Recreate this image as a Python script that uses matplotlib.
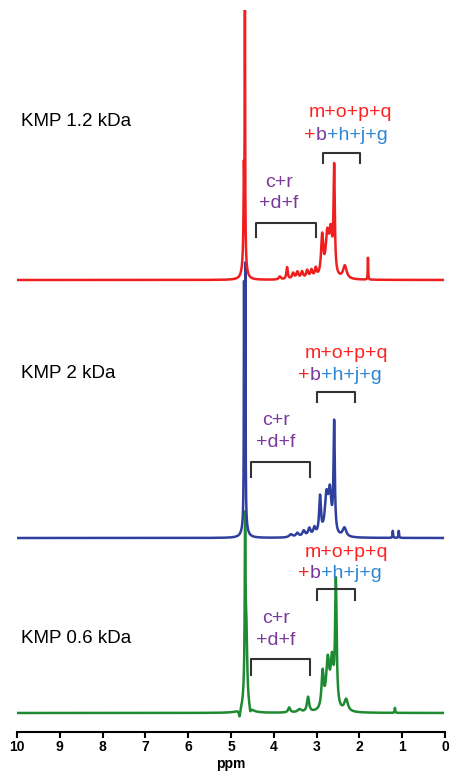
import numpy as np
import matplotlib.pyplot as plt

plt.rcParams['font.family'] = ['Liberation Sans', 'DejaVu Sans']

# peak lists: position (ppm), height (px above own baseline), half width (ppm)
red_pos = [4.675, 4.70, 4.69, 3.86, 3.69, 3.55, 3.45, 3.34, 3.22, 3.12, 3.02, 2.87, 2.75, 2.67, 2.59, 2.34, 1.80]
red_h = [262, 70, 38, 3, 12, 6, 7, 7, 8, 8, 9, 40, 40, 40, 105, 13, 22]
red_w = [0.006, 0.008, 0.035, 0.03, 0.02, 0.03, 0.03, 0.03, 0.03, 0.03, 0.025, 0.03, 0.045, 0.04, 0.018, 0.05, 0.006]

blue_pos = [4.665, 4.695, 4.68, 3.60, 3.45, 3.30, 3.17, 3.05, 2.92, 2.77, 2.69, 2.59, 2.35, 1.22, 1.08]
blue_h = [258, 240, 18, 3, 4, 6, 8, 8, 38, 38, 40, 110, 9, 7, 7]
blue_w = [0.006, 0.006, 0.05, 0.05, 0.04, 0.04, 0.035, 0.035, 0.025, 0.045, 0.04, 0.018, 0.05, 0.008, 0.008]

green_pos = [4.67, 4.64, 4.66, 4.80, 4.55, 3.64, 3.40, 3.20, 2.86, 2.74, 2.64, 2.55, 2.31, 1.17]
green_h = [150, 50, 40, -8, -6, 5, 3, 15, 36, 48, 45, 125, 12, 5]
green_w = [0.01, 0.02, 0.04, 0.02, 0.02, 0.03, 0.05, 0.03, 0.03, 0.045, 0.04, 0.022, 0.05, 0.008]

offsets = [433, 175, 0]  # red, blue, green baselines
colors = ['#f01e1e', '#2f3f9e', '#1e8a32']
names = ['KMP 1.2 kDa', 'KMP 2 kDa', 'KMP 0.6 kDa']
name_y = [587, 335, 70]

# annotation positions
mopq_x = [2.22, 2.31, 2.31]
mopq_y = [596, 355, 156]
bhjg_x = [3.29, 3.43, 3.43]
bhjg_y = [573, 333, 135]
cr_x = [3.88, 3.95, 3.95]
cr_y = [526, 288, 90]
df_y = [505, 266, 68]
br1 = [(2.85, 1.99, 560, 550), (2.99, 2.10, 321, 311), (2.99, 2.10, 124, 113)]
br2 = [(4.42, 3.01, 490, 476), (4.53, 3.15, 251, 236), (4.53, 3.15, 54, 38)]

RED, PURPLE, LBLUE = '#ff2424', '#7a3a9c', '#2f86d2'

xs = np.linspace(10.05, 0.05, 4000)


def spectrum(pos, h, w):
    y = np.zeros_like(xs)
    for p, a, g in zip(pos, h, w):
        y += a / (1 + ((xs - p) / g) ** 2)
    return y


fig = plt.figure(figsize=(4.51, 7.74), dpi=100)
ax = fig.add_axes([17 / 451, 42 / 774, 428 / 451, 722 / 774])

specs = [(red_pos, red_h, red_w), (blue_pos, blue_h, blue_w), (green_pos, green_h, green_w)]
for i, (p, h, w) in enumerate(specs):
    ax.plot(xs, spectrum(p, h, w) + offsets[i], color=colors[i], lw=1.8, zorder=5 - i)

for i in range(3):
    ax.text(9.91, name_y[i], names[i], fontsize=13.5, ha='left', va='baseline')
    ax.text(mopq_x[i], mopq_y[i], 'm+o+p+q', color=RED, fontsize=14, ha='center', va='baseline')
    prev = ax.text(bhjg_x[i], bhjg_y[i], '+', color=RED, fontsize=14, ha='left', va='baseline')
    for s, c in [('b', PURPLE), ('+h+j+g', LBLUE)]:
        prev = ax.annotate(s, xy=(1, 0), xycoords=prev, color=c, fontsize=14, ha='left', va='bottom')
    ax.text(cr_x[i], cr_y[i], 'c+r', color=PURPLE, fontsize=14, ha='center', va='baseline')
    ax.text(cr_x[i], df_y[i], '+d+f', color=PURPLE, fontsize=14, ha='center', va='baseline')
    for x1, x2, top, low in (br1[i], br2[i]):
        ax.plot([x1, x1, x2, x2], [low, top, top, low], color='#333333', lw=1.5, zorder=6)

ax.set_xlim(10, 0)
ax.set_ylim(-19, 703)
for s in ['top', 'left', 'right']:
    ax.spines[s].set_visible(False)
ax.spines['bottom'].set_linewidth(1.5)
ax.set_yticks([])
ax.set_xticks(range(0, 11))
ax.tick_params(axis='x', length=4, width=1.5, labelsize=10, pad=2)
for lab in ax.get_xticklabels():
    lab.set_fontweight('bold')
ax.set_xlabel('ppm', fontsize=10, fontweight='bold', labelpad=2)

fig.savefig('out.png', dpi=100)
